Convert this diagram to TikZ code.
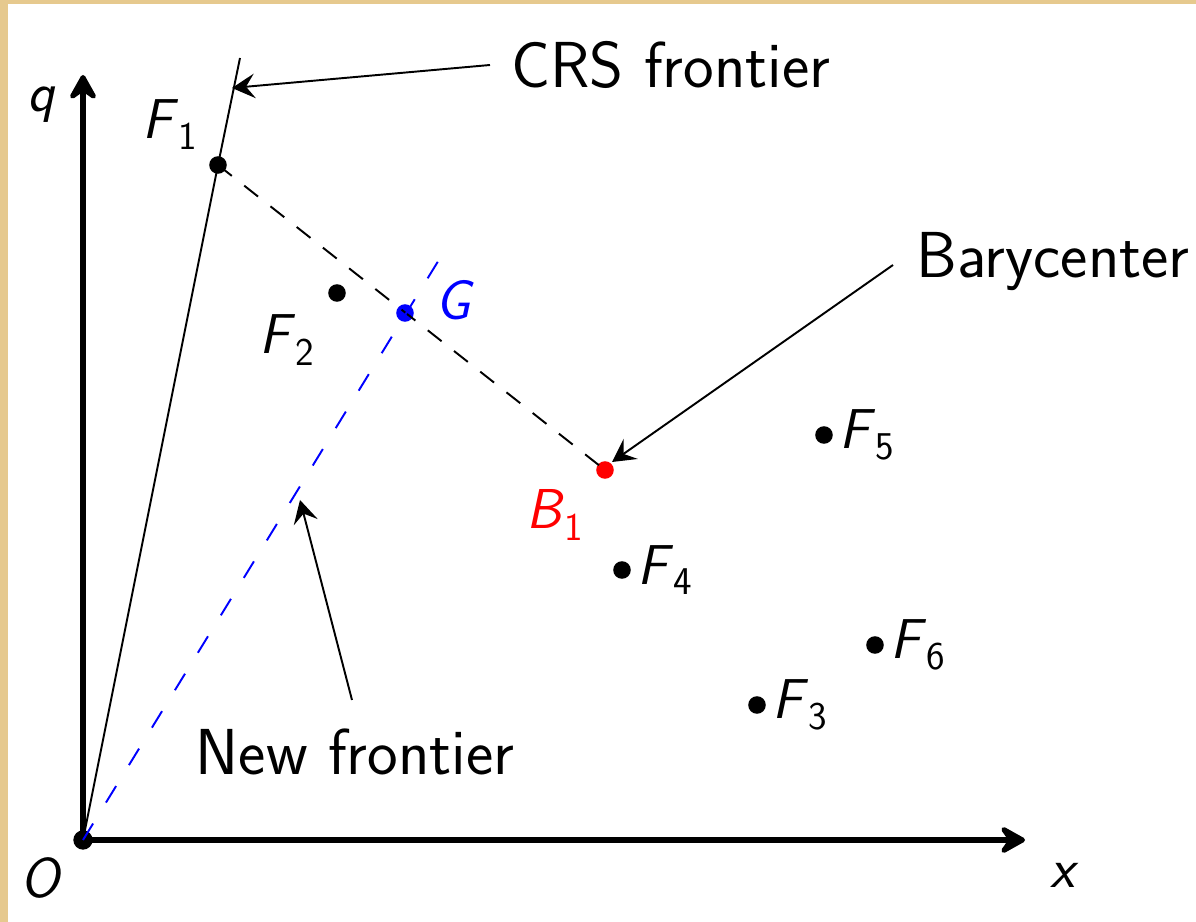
\documentclass[tikz,border=0pt]{standalone}
\usetikzlibrary{positioning,arrows.meta}
\definecolor{parch}{HTML}{E6C98E}
\definecolor{gblue}{HTML}{0000FF}
\definecolor{bred}{HTML}{FF0000}
\tikzset{
  axisline/.style={line width=3.6pt, -{Stealth[length=18pt,width=20pt,inset=7pt,round]}},
  fdot/.style={circle, fill=black, inner sep=0pt, minimum size=10pt},
  bigtxt/.style={font=\sffamily\fontsize{37}{44}\selectfont, inner sep=2pt},
  mlab/.style={font=\sffamily\fontsize{32}{38}\selectfont, inner sep=2pt},
  callout/.style={line width=1.1pt, -{Stealth[length=13pt,width=14pt,inset=5pt]}},
  crsline/.style={line width=1.1pt},
  oldfront/.style={line width=1.1pt, dash pattern=on 10pt off 9pt},
  newfront/.style={line width=1.1pt, draw=gblue, dash pattern=on 11pt off 14pt},
}
\newcommand{\vlab}[2]{\textit{#1}\textsubscript{#2}}
\begin{document}
\begin{tikzpicture}
  % page and frame
  \fill[parch] (0,0) rectangle (23.92,18.44);
  \fill[white] (0.16,0) rectangle (23.92,18.36);
  \useasboundingbox (0,0) rectangle (23.92,18.44);
  % axes
  \coordinate (O) at (1.66,1.64);
  \coordinate (xend) at (20.5,1.64);
  \coordinate (qend) at (1.66,16.94);
  \draw[axisline] (O) -- (xend);
  \draw[axisline] (O) -- (qend);
  \node[fdot, minimum size=11pt] (Odot) at (O) {};
  \node[mlab] (qlab) at (0.84,16.34) {\textit{q}};
  \node[mlab] (olab) at (0.84,0.88) {\textit{O}};
  \node[mlab] (xlab) at (21.3,0.94) {\textit{x}};
  % firms
  \node[fdot] (F1) at (4.36,15.14) {};
  \node[fdot] (F2) at (6.74,12.58) {};
  \node[fdot] (F3) at (15.14,4.34) {};
  \node[fdot] (F4) at (12.44,7.04) {};
  \node[fdot] (F5) at (16.48,9.74) {};
  \node[fdot] (F6) at (17.50,5.54) {};
  \node[fdot, fill=gblue] (G) at (8.10,12.18) {};
  \node[fdot, fill=bred] (B1) at (12.10,9.04) {};
  \node[mlab] (F1lab) at (3.40,15.95) {\vlab{F}{1}};
  \node[mlab] (F2lab) at (5.74,11.64) {\vlab{F}{2}};
  \node[mlab, right=0.05 of F3] (F3lab) {\vlab{F}{3}};
  \node[mlab, right=0.05 of F4] (F4lab) {\vlab{F}{4}};
  \node[mlab, right=0.05 of F5] (F5lab) {\vlab{F}{5}};
  \node[mlab, right=0.05 of F6] (F6lab) {\vlab{F}{6}};
  \node[mlab, text=gblue] (Glab) at (9.10,12.44) {\textit{G}};
  \node[mlab, text=bred] (B1lab) at (11.10,8.14) {\vlab{B}{1}};
  % frontiers
  \coordinate (crstop) at (4.80,17.28);
  \coordinate (newtop) at (8.90,13.44);
  \draw[crsline] (O) -- (F1.center) -- (crstop);
  \draw[oldfront] (F1.center) -- (B1.center);
  \draw[newfront] (O) -- (newtop);
  % callouts
  \node[bigtxt, anchor=west] (crs) at (10.15,17.14) {CRS frontier};
  \node[bigtxt, anchor=west] (bary) at (18.25,13.2) {Barycenter};
  \node[bigtxt] (newf) at (7.10,3.40) {New frontier};
  \coordinate (crstip) at (4.64,16.68);
  \coordinate (barytip) at (12.24,9.20);
  \coordinate (newtip) at (6.0,8.44);
  \draw[callout] (9.8,17.14) -- (crstip);
  \draw[callout] (17.86,13.14) -- (barytip);
  \draw[callout] (7.04,4.44) -- (newtip);
\end{tikzpicture}
\end{document}
